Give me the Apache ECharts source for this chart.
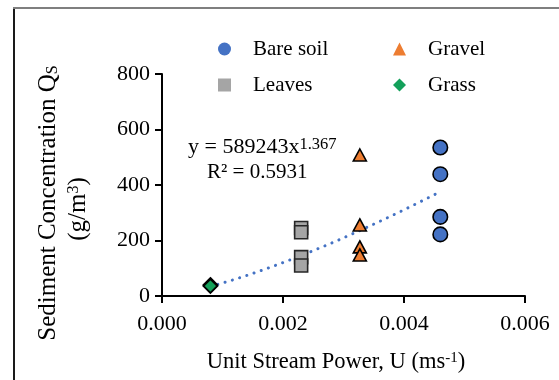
<!DOCTYPE html>
<html>
<head>
<meta charset="utf-8">
<script src="https://cdn.jsdelivr.net/npm/echarts@6/dist/echarts.min.js"></script>
<style>
  html, body { margin: 0; padding: 0; background: #fff; }
  #chart { width: 559px; height: 380px; }
</style>
</head>
<body>
<div id="chart"></div>
<script>
// Unit stream power (m/s) and sediment concentration (g/m3) per surface cover
const bareSoilU = [0.0046, 0.0046, 0.0046, 0.0046];
const bareSoilQ = [535, 439, 285, 222];
const gravelU = [0.00327, 0.00327, 0.00327, 0.00327];
const gravelQ = [508, 256, 177, 148];
const leavesU = [0.0023, 0.0023, 0.0023, 0.0023];
const leavesQ = [245, 230, 140, 110];
const grassU = [0.0008, 0.0008];
const grassQ = [40, 36];

// Power-law fit shown on the chart: Qs = 589243 * U^1.367
const fitCoef = 589243;
const fitExp = 1.367;
const fitRange = [0.0008, 0.0046];

// Axis ticks
const xTicks = [0, 0.002, 0.004, 0.006];
const yTicks = [0, 200, 400, 600, 800];

const FONT = 'Liberation Serif';
const pairs = (xs, ys) => xs.map((x, i) => [x, ys[i]]);

const fitPoints = [];
for (let i = 0; i <= 60; i++) {
  const u = fitRange[0] + (fitRange[1] - fitRange[0]) * i / 60;
  fitPoints.push([u, fitCoef * Math.pow(u, fitExp)]);
}

const chart = echarts.init(document.getElementById('chart'), null, { renderer: 'canvas' });

const legendText = { fontFamily: FONT, fontSize: 21, color: '#000', padding: [0, 0, 0, 17], lineHeight: 24 };
function legendAt(name, icon, left, top) {
  return {
    data: [{ name: name, icon: icon, itemStyle: { borderWidth: 0 } }],
    left: left, top: top, orient: 'vertical',
    itemWidth: 13, itemHeight: 13, padding: 0,
    selectedMode: false,
    textStyle: legendText
  };
}

chart.setOption({
  animation: false,
  backgroundColor: '#fff',
  grid: { left: 162, right: 34, top: 74, bottom: 84, containLabel: false },
  legend: [
    legendAt('Bare soil', 'circle', 218, 37),
    legendAt('Leaves', 'rect', 218, 73),
    legendAt('Gravel', 'triangle', 393, 37),
    legendAt('Grass', 'diamond', 393, 73)
  ],
  xAxis: {
    type: 'value',
    min: xTicks[0], max: xTicks[xTicks.length - 1], interval: xTicks[1] - xTicks[0],
    axisLine: { show: true, onZero: false, lineStyle: { color: '#000', width: 2 } },
    axisTick: { show: true, length: 7, lineStyle: { color: '#000', width: 2 } },
    splitLine: { show: false },
    axisLabel: {
      margin: 17, fontFamily: FONT, fontSize: 22, color: '#000',
      formatter: v => v.toFixed(3)
    }
  },
  yAxis: {
    type: 'value',
    min: yTicks[0], max: yTicks[yTicks.length - 1], interval: yTicks[1] - yTicks[0],
    axisLine: { show: true, lineStyle: { color: '#000', width: 2 } },
    axisTick: { show: true, length: 7, lineStyle: { color: '#000', width: 2 } },
    splitLine: { show: false },
    axisLabel: { margin: 12, fontFamily: FONT, fontSize: 22, color: '#000' }
  },
  series: [
    {
      name: 'Power fit', type: 'line', data: fitPoints, showSymbol: false, symbol: 'none',
      silent: true, z: 1,
      lineStyle: { color: '#4472C4', width: 3, type: [0.1, 7.5], cap: 'round' }
    },
    {
      name: 'Bare soil', type: 'scatter', symbol: 'circle', symbolSize: 14.5, z: 3,
      data: pairs(bareSoilU, bareSoilQ),
      itemStyle: { color: '#4472C4', borderColor: '#000', borderWidth: 1.6, opacity: 1 }
    },
    {
      name: 'Leaves', type: 'scatter', symbol: 'rect', symbolSize: 13, z: 3,
      data: pairs(leavesU, leavesQ),
      itemStyle: { color: '#A5A5A5', borderColor: '#262626', borderWidth: 1.6, opacity: 1 }
    },
    {
      name: 'Gravel', type: 'scatter', symbol: 'triangle', symbolSize: [13, 12], z: 3,
      data: pairs(gravelU, gravelQ),
      itemStyle: { color: '#ED7D31', borderColor: '#000', borderWidth: 1.6, opacity: 1 }
    },
    {
      name: 'Grass', type: 'scatter', symbol: 'diamond', symbolSize: 14, z: 3,
      data: pairs(grassU, grassQ),
      itemStyle: { color: '#13A05A', borderColor: '#000', borderWidth: 1.8, opacity: 1 }
    }
  ],
  graphic: [
    { type: 'line', shape: { x1: 14, y1: 8, x2: 14, y2: 380 }, style: { stroke: '#1a1a1a', lineWidth: 2 }, silent: true },
    { type: 'line', shape: { x1: 13, y1: 8, x2: 559, y2: 8 }, style: { stroke: '#7f7f7f', lineWidth: 2 }, silent: true },
    {
      type: 'text', x: 48, y: 203, rotation: Math.PI / 2, silent: true,
      style: {
        text: 'Sediment Concentration Q{sub|S}',
        fontFamily: FONT, fontSize: 25, fill: '#000', align: 'center', verticalAlign: 'middle',
        rich: { sub: { fontFamily: FONT, fontSize: 16, fill: '#000', verticalAlign: 'bottom' } }
      }
    },
    {
      type: 'text', x: 78, y: 209, rotation: Math.PI / 2, silent: true,
      style: {
        text: '(g/m{sup|3})',
        fontFamily: FONT, fontSize: 25, fill: '#000', align: 'center', verticalAlign: 'middle',
        rich: { sup: { fontFamily: FONT, fontSize: 16, fill: '#000', verticalAlign: 'top' } }
      }
    },
    {
      type: 'text', x: 336, y: 362, silent: true,
      style: {
        text: 'Unit Stream Power, U (ms{sup|-1})',
        fontFamily: FONT, fontSize: 22.5, fill: '#000', align: 'center', verticalAlign: 'middle',
        rich: { sup: { fontFamily: FONT, fontSize: 15, fill: '#000', verticalAlign: 'top' } }
      }
    },
    {
      type: 'text', x: 188, y: 147, silent: true,
      style: {
        text: 'y = 589243x{sup|1.367}',
        fontFamily: FONT, fontSize: 22, fill: '#000', align: 'left', verticalAlign: 'middle',
        rich: { sup: { fontFamily: FONT, fontSize: 16.5, fill: '#000', verticalAlign: 'top' } }
      }
    },
    {
      type: 'text', x: 207, y: 172, silent: true,
      style: {
        text: 'R² = 0.5931',
        fontFamily: FONT, fontSize: 21, fill: '#000', align: 'left', verticalAlign: 'middle'
      }
    }
  ]
});
</script>
</body>
</html>
